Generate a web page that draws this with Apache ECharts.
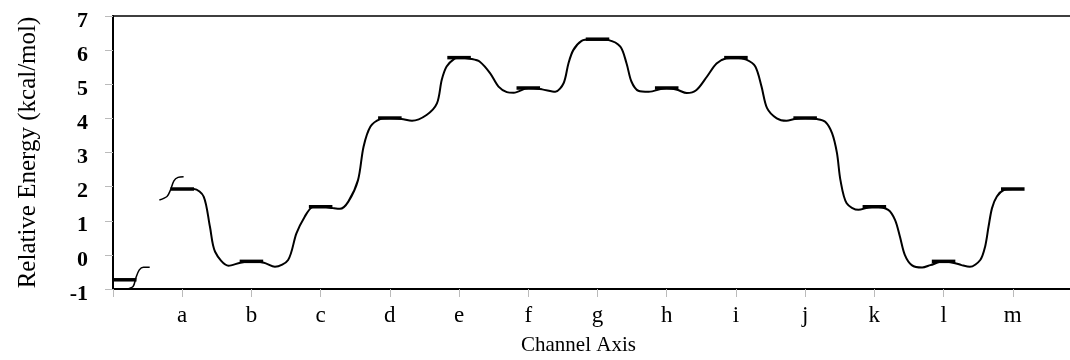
<!DOCTYPE html>
<html>
<head>
<meta charset="utf-8">
<script src="https://cdn.jsdelivr.net/npm/echarts@6/dist/echarts.min.js"></script>
<style>
  html, body { margin: 0; padding: 0; background: #fff; }
  #chart { width: 1070px; height: 360px; }
</style>
</head>
<body>
<div id="chart"></div>
<script>
// ---- data ----
const categories = ['', 'a', 'b', 'c', 'd', 'e', 'f', 'g', 'h', 'i', 'j', 'k', 'l', 'm'];
const yTicks = [-1, 0, 1, 2, 3, 4, 5, 6, 7];
const levelPositions = [0.17, 1, 2, 3, 4, 5, 6, 7, 8, 9, 10, 11, 12, 13];
const levelValues = [-0.73, 1.93, -0.19, 1.41, 4.01, 5.78, 4.89, 6.32, 4.89, 5.78, 4.01, 1.41, -0.19, 1.93];

// energy profile: [channel position, energy]
const profilePoints = [
  [1.0, 1.93], [1.17, 1.93], [1.31, 1.71], [1.40, 0.83], [1.475, 0.09], [1.67, -0.32], [1.84, -0.23],
  [2.0, -0.19], [2.18, -0.23], [2.34, -0.35], [2.53, -0.15], [2.65, 0.63], [2.77, 1.12], [2.88, 1.40],
  [3.0, 1.42], [3.18, 1.37], [3.28, 1.35], [3.40, 1.56], [3.54, 2.19], [3.62, 3.17], [3.72, 3.76], [3.86, 3.98],
  [4.0, 4.01], [4.17, 3.98], [4.32, 3.93], [4.53, 4.10], [4.68, 4.44], [4.75, 5.13], [4.82, 5.52], [4.94, 5.76],
  [5.0, 5.78], [5.18, 5.74], [5.30, 5.66], [5.45, 5.32], [5.57, 4.93], [5.69, 4.77], [5.79, 4.75],
  [6.0, 4.89], [6.2, 4.85], [6.39, 4.78], [6.51, 5.03], [6.58, 5.61], [6.65, 6.0], [6.77, 6.27], [6.9, 6.32],
  [7.0, 6.32], [7.15, 6.30], [7.33, 6.10], [7.42, 5.61], [7.49, 5.08], [7.59, 4.81], [7.74, 4.78],
  [8.0, 4.89], [8.15, 4.84], [8.29, 4.74], [8.43, 4.83], [8.58, 5.22], [8.72, 5.61], [8.86, 5.76],
  [9.0, 5.78], [9.15, 5.72], [9.28, 5.52], [9.37, 4.93], [9.45, 4.30], [9.59, 4.00], [9.73, 3.93], [9.85, 3.98],
  [10.0, 4.01], [10.17, 3.98], [10.29, 3.90], [10.39, 3.56], [10.46, 2.98], [10.51, 2.19], [10.6, 1.51], [10.77, 1.32], [10.9, 1.38],
  [11.0, 1.41], [11.2, 1.32], [11.3, 1.02], [11.37, 0.53], [11.44, 0.0], [11.54, -0.30], [11.69, -0.37], [11.81, -0.30],
  [12.0, -0.19], [12.18, -0.25], [12.26, -0.30], [12.38, -0.35], [12.53, -0.15], [12.6, 0.24], [12.65, 0.83],
  [12.7, 1.37], [12.77, 1.71], [12.87, 1.90], [13.0, 1.93]
];
// axis-break marks
const breakLeft = [[0.19, -1.01], [0.29, -0.93], [0.33, -0.68], [0.38, -0.44], [0.44, -0.36], [0.53, -0.36]];
const breakRight = [[0.67, 1.61], [0.78, 1.71], [0.83, 1.90], [0.88, 2.17], [0.94, 2.27], [1.02, 2.29]];

// ---- chart ----
const BAR_HALF = 0.17;
const serif = '"Liberation Serif", "Times New Roman", serif';
const chart = echarts.init(document.getElementById('chart'), null, { renderer: 'canvas' });

const levelData = levelPositions.map((x, i) => [x, levelValues[i]]);

chart.setOption({
  animation: false,
  backgroundColor: '#fff',
  grid: { left: 113, top: 16, height: 273, width: 969, outerBoundsMode: 'none', containLabel: false,
          show: true, borderColor: '#000', borderWidth: 1.5 },
  xAxis: {
    type: 'value', min: 0, max: 14, interval: 1,
    axisLine: { show: true, onZero: false, lineStyle: { color: '#000', width: 2 } },
    axisTick: { show: true, length: 8, lineStyle: { color: '#bbb', width: 1 } },
    splitLine: { show: false },
    axisLabel: {
      color: '#000', fontFamily: serif, fontSize: 23, margin: 15,
      formatter: v => categories[v] || ''
    }
  },
  yAxis: {
    type: 'value', min: yTicks[0], max: yTicks[yTicks.length - 1], interval: 1,
    name: 'Relative Energy (kcal/mol)', nameLocation: 'middle', nameGap: 72, nameRotate: 90,
    nameTextStyle: { color: '#000', fontFamily: serif, fontSize: 25 },
    axisLine: { show: true, lineStyle: { color: '#000', width: 2 } },
    axisTick: { show: true, length: 8, lineStyle: { color: '#bbb', width: 1 } },
    splitLine: { show: false },
    axisLabel: {
      color: '#000', fontFamily: serif, fontSize: 22, fontWeight: 'bold', margin: 25,
      formatter: v => '{v|' + v + '}',
      rich: { v: { fontFamily: serif, fontSize: 22, fontWeight: 'bold', color: '#000', padding: [10, 0, 0, 0] } }
    }
  },
  graphic: [{
    type: 'text', left: 521, top: 335,
    style: { text: 'Channel Axis', font: '21px ' + serif, fill: '#000' }
  }],
  series: [
    {
      type: 'line', data: profilePoints, smooth: 0.3, showSymbol: false,
      lineStyle: { color: '#000', width: 2 }, z: 2
    },
    {
      type: 'line', data: breakLeft, smooth: 0.3, showSymbol: false,
      lineStyle: { color: '#000', width: 1.5 }, z: 2, clip: false
    },
    {
      type: 'line', data: breakRight, smooth: 0.3, showSymbol: false,
      lineStyle: { color: '#000', width: 1.5 }, z: 2
    },
    {
      type: 'custom', data: levelData, z: 3,
      renderItem: function (params, api) {
        const x = api.value(0), y = api.value(1);
        const p1 = api.coord([Math.max(0, x - BAR_HALF), y]);
        const p2 = api.coord([x + BAR_HALF, y]);
        return { type: 'line', shape: { x1: p1[0], y1: p1[1], x2: p2[0], y2: p2[1] },
                 style: { stroke: '#000', lineWidth: 3.5 } };
      }
    }
  ]
});
</script>
</body>
</html>
